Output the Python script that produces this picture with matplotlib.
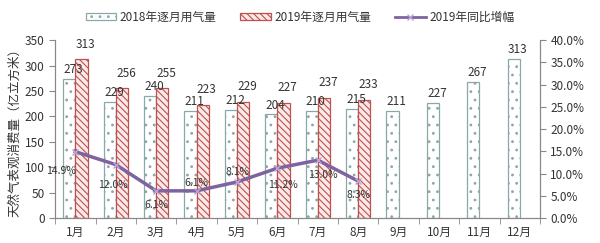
import numpy as np
import matplotlib
matplotlib.use('Agg')
import matplotlib.pyplot as plt
from matplotlib.patches import Patch
from matplotlib.lines import Line2D

plt.rcParams['font.family'] = ['Noto Sans CJK SC', 'DejaVu Sans']
plt.rcParams['hatch.linewidth'] = 0.8

months = ['1月', '2月', '3月', '4月', '5月', '6月', '7月', '8月', '9月', '10月', '11月', '12月']
gas_2018 = [273, 229, 240, 211, 212, 204, 210, 215, 211, 227, 267, 313]
gas_2019 = [313, 256, 255, 223, 229, 227, 237, 233]
growth_2019 = [14.9, 12.0, 6.1, 6.1, 8.1, 11.2, 13.0, 8.3]
# label offsets for the growth line (points)
growth_offsets = [(-10, -14), (-2, -15), (0, -10), (0, 6), (0, 7), (4, -12), (4, -11), (0, -10)]

c18 = '#8aa8a8'
c19 = '#c0504d'
cline = '#7d63a0'
txt = '#333333'

fig = plt.figure(figsize=(6, 2.43), dpi=100)
ax = fig.add_axes([0.092, 0.103, 0.808, 0.732])
ax2 = ax.twinx()

x = np.arange(len(months))
w = 0.3
ax.bar(x - w / 2, gas_2018, w, facecolor='white', edgecolor=c18, hatch='..', linewidth=0.9)
x19 = np.arange(len(gas_2019))
ax.bar(x19 + w / 2, gas_2019, w, facecolor='#fbeaea', edgecolor=c19, hatch='\\\\\\\\\\', linewidth=0.9)

for xi, v in zip(x, gas_2018):
    ax.annotate(str(v), (xi - w / 2, v), xytext=(3, 2), textcoords='offset points',
                ha='center', va='bottom', fontsize=8.5, color=txt)
for xi, v in zip(x19, gas_2019):
    ax.annotate(str(v), (xi + w / 2, v), xytext=(3, 6), textcoords='offset points',
                ha='center', va='bottom', fontsize=8.5, color=txt)

ax2.plot(x19, growth_2019, color=cline, linewidth=2.5, marker='x', markersize=5,
         markeredgecolor='#b9a3d6', zorder=5)
for xi, v, off in zip(x19, growth_2019, growth_offsets):
    ax2.annotate(f'{v:.1f}%', (xi, v), xytext=off, textcoords='offset points',
                 ha='center', va='center', fontsize=7.5, color=txt)

ax.set_xlim(-0.5, 11.5)
ax.set_ylim(0, 350)
ax.set_yticks(np.arange(0, 351, 50))
ax2.set_ylim(0, 40)
ax2.set_yticks(np.arange(0, 40.1, 5))
ax2.set_yticklabels([f'{t:.1f}%' for t in np.arange(0, 40.1, 5)])

ax.set_xticks(x)
ax.set_xticklabels(months)
ax.set_xticks(np.arange(-0.5, 12, 1), minor=True)
ax.tick_params(axis='x', which='major', length=0, pad=6, labelsize=8.5, colors=txt)
ax.tick_params(axis='x', which='minor', length=4, color='#888888')
ax.tick_params(axis='y', length=4, color='#888888', labelsize=8.5, colors=txt)
ax2.tick_params(axis='y', length=4, color='#888888', labelsize=8.5, colors=txt)

for a in (ax, ax2):
    a.spines['top'].set_visible(False)
    for s in ('left', 'right', 'bottom'):
        a.spines[s].set_color('#888888')
        a.spines[s].set_linewidth(0.8)

ax.set_ylabel('天然气表观消费量（亿立方米）', fontsize=9, color=txt, labelpad=3)

handles = [
    Patch(facecolor='white', edgecolor=c18, hatch='..', linewidth=0.9),
    Patch(facecolor='#fbeaea', edgecolor=c19, hatch='\\\\\\\\\\', linewidth=0.9),
    Line2D([0], [0], color=cline, linewidth=2, marker='x', markersize=5, markeredgecolor='#b9a3d6'),
]
fig.legend(handles, ['2018年逐月用气量', '2019年逐月用气量', '2019年同比增幅'],
           loc='center', bbox_to_anchor=(0.5, 0.93), ncol=3, frameon=False,
           fontsize=8.5, handlelength=2.6, handleheight=0.6, columnspacing=2.0,
           handletextpad=0.3, labelcolor=txt)

fig.savefig('out.png', dpi=100)
